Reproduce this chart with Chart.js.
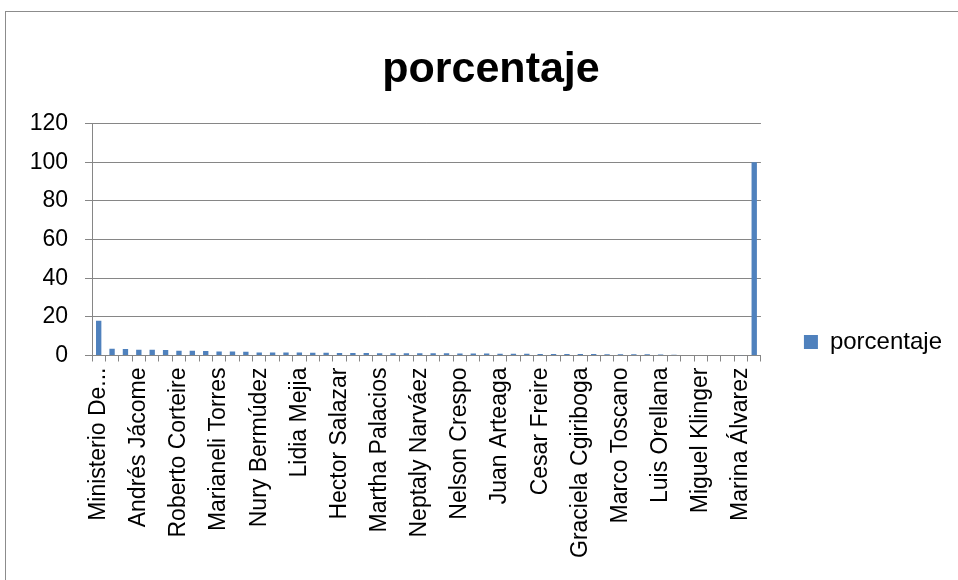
<!DOCTYPE html>
<html>
<head>
<meta charset="utf-8">
<script src="https://cdn.jsdelivr.net/npm/chart.js@4/dist/chart.umd.min.js"></script>
<style>
  html, body { margin: 0; padding: 0; background: #fff; overflow: hidden; }
  body { width: 958px; height: 580px; position: relative; }
  #frame {
    position: absolute; left: 5px; top: 11px;
    width: 1000px; height: 700px;
    border: 1px solid #8c8c8c;
    overflow: hidden;
  }
  #chart { display: block; }
</style>
</head>
<body>
<div id="frame"><canvas id="chart" width="968" height="660" style="width:968px;height:660px"></canvas></div>
<script>
// only every third name is printed on the axis; the rest stay blank
const categories = [
  "Ministerio De...", "", "",
  "Andrés Jácome", "", "",
  "Roberto Corteire", "", "",
  "Marianeli Torres", "", "",
  "Nury Bermúdez", "", "",
  "Lidia Mejia", "", "",
  "Hector Salazar", "", "",
  "Martha Palacios", "", "",
  "Neptaly Narváez", "", "",
  "Nelson Crespo", "", "",
  "Juan Arteaga", "", "",
  "Cesar Freire", "", "",
  "Graciela Cgiriboga", "", "",
  "Marco Toscano", "", "",
  "Luis Orellana", "", "",
  "Miguel Klinger", "", "",
  "Marina Álvarez", ""
];

const porcentaje = [
  18, 3.5, 3.3, 3.0, 3.0, 2.8, 2.5, 2.5, 2.3, 2.1,
  2.1, 1.9, 1.6, 1.6, 1.6, 1.6, 1.4, 1.4, 1.3, 1.3,
  1.3, 1.2, 1.2, 1.2, 1.1, 1.1, 1.1, 1.0, 1.0, 1.0,
  0.9, 0.9, 0.9, 0.8, 0.8, 0.8, 0.8, 0.8, 0.7, 0.7,
  0.6, 0.6, 0.5, 0.4, 0.3, 0.3, 0.2, 0.2, 0.1, 100
];

const yTicks = [0, 20, 40, 60, 80, 100, 120];

const FONT = "'Liberation Sans', Arial, sans-serif";
const GRAY = "#868686";
const BLUE = "#4F81BD";

Chart.defaults.font.family = FONT;
Chart.defaults.color = "#000";

new Chart(document.getElementById("chart"), {
  type: "bar",
  data: {
    labels: categories,
    datasets: [{
      label: "porcentaje",
      data: porcentaje,
      backgroundColor: BLUE,
      borderWidth: 0,
      barPercentage: 0.4,
      categoryPercentage: 1.0,
    }],
  },
  options: {
    responsive: false,
    animation: false,
    layout: { padding: { left: 24, right: 22, top: 0, bottom: 0 } },
    plugins: {
      title: {
        display: true,
        text: "porcentaje",
        color: "#000",
        font: { family: FONT, size: 43, weight: "bold" },
        padding: { top: 32, bottom: 28 },
      },
      legend: {
        position: "right",
        labels: {
          boxWidth: 14,
          boxHeight: 14,
          padding: 43,
          color: "#000",
          font: { family: FONT, size: 24 },
        },
      },
      tooltip: { enabled: false },
    },
    scales: {
      x: {
        offset: true,
        afterFit: (scale) => { scale.height = 316.5; },
        grid: { display: true, offset: true, drawOnChartArea: false, drawTicks: true, tickLength: 6, color: GRAY },
        border: { display: true, color: GRAY },
        ticks: {
          autoSkip: false,
          minRotation: 90,
          maxRotation: 90,
          padding: 6,
          font: { size: 23 },
          callback: (v, i) => categories[i],
        },
      },
      y: {
        min: 0,
        max: 120,
        afterFit: (scale) => { scale.width = 62; },
        afterBuildTicks: (scale) => { scale.ticks = yTicks.map((v) => ({ value: v })); },
        grid: { color: GRAY, tickLength: 7, drawTicks: true },
        border: { display: true, color: GRAY },
        ticks: { padding: 17, font: { size: 23 } },
      },
    },
  },
});
</script>
</body>
</html>
